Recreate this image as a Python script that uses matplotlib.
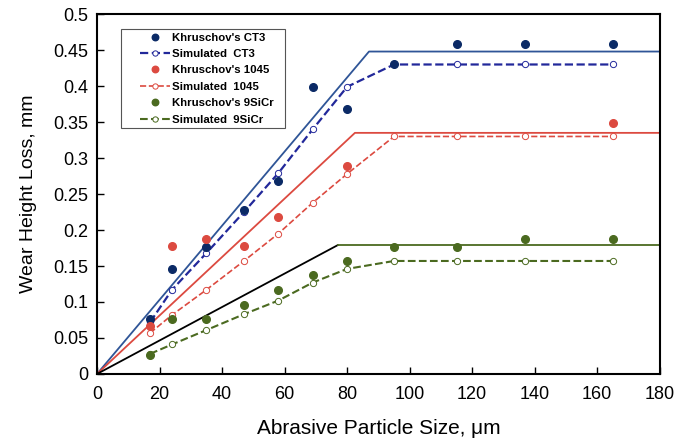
import matplotlib
matplotlib.use('Agg')
import matplotlib.pyplot as plt
from matplotlib.patches import Rectangle, Shadow
from matplotlib.ticker import MultipleLocator

plt.rcParams['font.family'] = ['Liberation Sans', 'DejaVu Sans']

# particle sizes, um
size = [17, 24, 35, 47, 58, 69, 80, 95, 115, 137, 165]

# measured wear (Khruschov)
ct3_meas = [0.077, 0.146, 0.177, 0.228, 0.268, 0.399, 0.368, 0.430, 0.459, 0.459, 0.459]
s1045_x = [17, 24, 35, 47, 58, 80, 165]
s1045_meas = [0.067, 0.178, 0.187, 0.178, 0.218, 0.289, 0.349]
sicr_meas = [0.026, 0.076, 0.076, 0.096, 0.117, 0.137, 0.157, 0.177, 0.177, 0.187, 0.187]

# simulated wear
ct3_sim = [0.072, 0.117, 0.168, 0.225, 0.279, 0.340, 0.399, 0.430, 0.430, 0.430, 0.430]
s1045_sim = [0.057, 0.082, 0.117, 0.157, 0.195, 0.238, 0.278, 0.330, 0.330, 0.330, 0.330]
sicr_sim = [0.028, 0.041, 0.061, 0.083, 0.102, 0.127, 0.146, 0.157, 0.157, 0.157, 0.157]

# model lines: linear rise to a critical size, then constant
ct3_model_x = [0, 87, 180]
ct3_model_y = [0, 0.448, 0.448]
s1045_model_x = [0, 82.5, 180]
s1045_model_y = [0, 0.335, 0.335]
sicr_rise_x = [0, 77]
sicr_rise_y = [0, 0.179]
sicr_flat_x = [77, 180]
sicr_flat_y = [0.179, 0.179]

navy = '#0b2a66'
blue_sim = '#22289a'
blue_line = '#2f5597'
red = '#dc4a40'
green = '#4b6a20'

fig = plt.figure(figsize=(6.83, 4.41), dpi=100)
ax = fig.add_axes([0.142, 0.152, 0.824, 0.816])

ax.plot(ct3_model_x, ct3_model_y, color=blue_line, lw=1.3, zorder=2)
ax.plot(s1045_model_x, s1045_model_y, color=red, lw=1.3, zorder=2)
ax.plot(sicr_rise_x, sicr_rise_y, color='black', lw=1.3, zorder=2)
ax.plot(sicr_flat_x, sicr_flat_y, color=green, lw=1.3, zorder=2)

ax.plot(size, ct3_meas, 'o', color=navy, ms=5.5, ls='none', label="Khruschov's CT3", zorder=4)
ax.plot(size, ct3_sim, '--o', color=blue_sim, ms=4.5, mfc='white', mew=0.7, lw=1.6,
        label='Simulated  CT3', zorder=3)
ax.plot(s1045_x, s1045_meas, 'o', color=red, ms=5.5, ls='none', label="Khruschov's 1045", zorder=4)
ax.plot(size, s1045_sim, '--o', color=red, ms=4.5, mfc='white', mew=0.7, lw=1.2,
        label='Simulated  1045', zorder=3)
ax.plot(size, sicr_meas, 'o', color=green, ms=5.5, ls='none', label="Khruschov's 9SiCr", zorder=4)
ax.plot(size, sicr_sim, '--o', color=green, ms=4.5, mfc='white', mew=0.7, lw=1.5,
        label='Simulated  9SiCr', zorder=3)

ax.set_xlim(0, 180)
ax.set_ylim(0, 0.5)
ax.xaxis.set_major_locator(MultipleLocator(20))
ax.set_yticks([i * 0.05 for i in range(11)])
ax.set_yticklabels(['0', '0.05', '0.1', '0.15', '0.2', '0.25', '0.3', '0.35', '0.4', '0.45', '0.5'])
ax.tick_params(direction='in', length=5, width=1, labelsize=13)
ax.tick_params(axis='x', pad=9)
ax.tick_params(axis='y', pad=6)
for sp in ax.spines.values():
    sp.set_linewidth(1.5)

ax.set_xlabel('Abrasive Particle Size, \u03bcm', fontsize=15, labelpad=11)
ax.set_ylabel('Wear Height Loss, mm', fontsize=14, labelpad=12)

leg = ax.legend(loc='upper left', bbox_to_anchor=(0.071, 0.958), frameon=False,
                prop={'weight': 'bold', 'size': 8.2}, borderpad=0.3, borderaxespad=0,
                labelspacing=0.56, handlelength=2.6, handletextpad=0.2, markerscale=0.85)
leg.set_zorder(10)

# frame drawn by hand so it can be wider than the legend's own padding
fig.canvas.draw()
bb = leg.get_window_extent().transformed(fig.transFigure.inverted())
frame = Rectangle((bb.x0 - 0.024, bb.y0), bb.width + 0.035, bb.height,
                  transform=fig.transFigure, facecolor='white', edgecolor='#555555',
                  lw=0.8, zorder=8, clip_on=False)
shadow = Shadow(frame, 3, -3)
shadow.set_zorder(7.9)
shadow.set_facecolor('#8a8a8a')
shadow.set_alpha(0.7)
shadow.set_clip_on(False)
ax.add_artist(shadow)
ax.add_artist(frame)

fig.savefig('out.png', dpi=100)
